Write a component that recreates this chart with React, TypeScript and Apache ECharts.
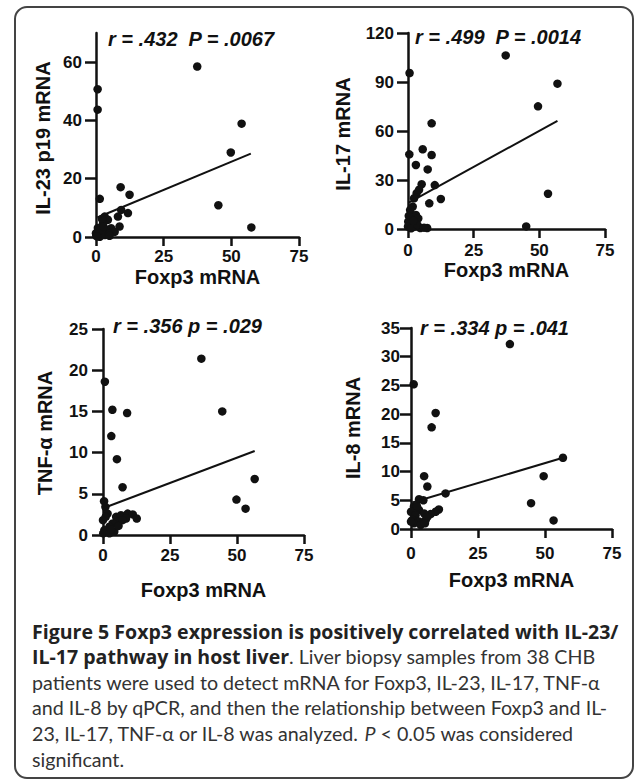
import React, { useEffect, useRef } from 'react';
import * as echarts from 'echarts';

// ---------- data ----------
const foxp3Ticks = [0, 25, 50, 75];

const il23Points = [
  [37.4, 58.5], [0.6, 50.7], [0.6, 43.7], [53.8, 38.9], [49.8, 29.0], [45.2, 10.9], [57.4, 3.3],
  [9.1, 17.1], [12.4, 14.5], [1.4, 13.1], [9.3, 9.3], [11.8, 8.2], [8.1, 7.0], [3.2, 7.0],
  [4.4, 5.9], [2.6, 4.7], [8.7, 3.6], [5.6, 3.0], [0.7, 3.1], [2.0, 1.8], [3.8, 2.4], [6.9, 1.8],
  [0.1, 0.7], [1.4, 0.1], [3.2, 0.7], [0, 1.3], [2.2, 6.2], [1.0, 2.2], [4.8, 1.0], [2.8, 3.6],
  [0.3, 0.2], [5.0, 0.4],
];
const il17Points = [
  [37.2, 106.3], [56.9, 89.0], [49.5, 75.1], [53.3, 21.6], [45.0, 1.6], [0.6, 95.5], [0.5, 45.7],
  [9.0, 64.7], [5.6, 48.8], [9.0, 45.3], [3.0, 39.2], [7.5, 36.5], [5.2, 27.4], [10.2, 26.9],
  [8.1, 15.7], [12.5, 18.4], [3.3, 21.9], [2.3, 18.8], [1.8, 13.7], [0.8, 11.6], [3.0, 8.6],
  [3.9, 6.5], [0.1, 4.5], [0, 1.5], [2.4, 1.5], [4.7, 0.6], [7.3, 0.6], [1.2, 0.4], [3.6, 2.5],
  [4.2, 24.0], [0.3, 8.0], [2.0, 5.0], [6.1, 0.8],
];
const tnfPoints = [
  [36.7, 21.4], [44.5, 15.0], [56.6, 6.8], [49.8, 4.3], [53.2, 3.2], [0.7, 18.6], [3.5, 15.2],
  [9.0, 14.8], [3.1, 12.0], [5.2, 9.2], [7.3, 5.8], [0.4, 4.1], [0.9, 3.4], [1.7, 2.6], [4.9, 2.2],
  [6.7, 2.4], [9.2, 2.6], [11.1, 2.5], [12.6, 2.0], [8.6, 2.0], [5.5, 1.6], [3.6, 1.4], [2.4, 1.0],
  [0.5, 0.6], [0.1, 0.2], [2.4, 0.2], [4.2, 0.4], [7.3, 1.8], [0, 1.8], [1.0, 2.2], [3.0, 0.7],
  [5.8, 1.1],
];
const il8Points = [
  [36.9, 32.2], [56.7, 12.4], [49.5, 9.2], [44.8, 4.5], [53.2, 1.5], [1.0, 25.2], [9.2, 20.2],
  [7.7, 17.7], [4.9, 9.2], [6.1, 7.4], [12.9, 6.2], [3.0, 5.2], [4.6, 5.0], [10.4, 3.4], [9.2, 3.0],
  [7.3, 2.6], [1.1, 3.9], [0, 3.0], [3.0, 3.3], [4.9, 2.7], [1.7, 2.4], [0.5, 1.6], [3.0, 1.3],
  [5.5, 1.6], [1.1, 1.0], [6.1, 2.1], [3.6, 0.7], [0, 1.3], [2.2, 4.0], [5.2, 1.0],
];

const il23Fit = [[0.5, 6.7], [57.2, 28.6]];
const il17Fit = [[0.3, 16.2], [56.9, 66.2]];
const tnfFit = [[0.5, 3.3], [56.6, 10.2]];
const il8Fit = [[0.5, 4.6], [56.7, 12.4]];

const il23Ticks = [0, 20, 40, 60];
const il17Ticks = [0, 30, 60, 90, 120];
const tnfTicks = [0, 5, 10, 15, 20, 25];
const il8Ticks = [0, 5, 10, 15, 20, 25, 30, 35];

const yMaxes = [70, 120, 25, 35];
const yNames = ['IL-23 p19 mRNA', 'IL-17 mRNA', 'TNF-α mRNA', 'IL-8 mRNA'];
const xName = 'Foxp3 mRNA';
const statTexts = ['r = .432  P = .0067', 'r = .499  P = .0014', 'r = .356 p = .029', 'r = .334 p = .041'];

const captionBoldFirst = 'Figure 5 Foxp3 expression is positively correlated with IL-23/';
const captionNormalRef = 'patients were used to detect mRNA for Foxp3, IL-23, IL-17, TNF-α';
const captionLines = [
  '{b|' + captionBoldFirst + '}',
  '{b|IL-17 pathway in host liver}{n|. Liver biopsy samples from 38 CHB}',
  '{n|' + captionNormalRef + '}',
  '{n|and IL-8 by qPCR, and then the relationship between Foxp3 and IL-}',
  '{n|23, IL-17, TNF-α or IL-8 was analyzed. }{i|P}{n| < 0.05 was considered}',
  '{n|significant.}',
];

// ---------- layout ----------
const panels = [
  { left: 96, top: 33, width: 203, height: 204, xMargin: 11, yMargin: 14, xGap: 30, tx: 108, ty: 39, nx: 43, ny: 138 },
  { left: 408, top: 33, width: 197, height: 196, xMargin: 13, yMargin: 14, xGap: 31, tx: 415, ty: 37, nx: 343, ny: 134 },
  { left: 103, top: 329, width: 201, height: 206, xMargin: 12, yMargin: 15, xGap: 45, tx: 113, ty: 326, nx: 45, ny: 433 },
  { left: 411, top: 328, width: 201, height: 201, xMargin: 16, yMargin: 11, xGap: 41, tx: 420, ty: 328, nx: 353, ny: 428 },
];

const pointsList = [il23Points, il17Points, tnfPoints, il8Points];
const fitList = [il23Fit, il17Fit, tnfFit, il8Fit];
const tickList = [il23Ticks, il17Ticks, tnfTicks, il8Ticks];

const AX = 'Liberation Sans, Arial, sans-serif';
const INK = '#111';
const BOLD_FONT = "'Open Sans', sans-serif";
const NORMAL_FONT = 'Lato, sans-serif';

function fitSize(text: string, font: string, weight: string, target: number, fallback: number) {
  try {
    const ctx = document.createElement('canvas').getContext('2d');
    if (!ctx) return fallback;
    ctx.font = `${weight} 20px ${font}`;
    const w = ctx.measureText(text).width;
    if (!w) return fallback;
    return (20 * target) / w;
  } catch (e) {
    return fallback;
  }
}

export default function App() {
  const ref = useRef<HTMLDivElement>(null);

  useEffect(() => {
    if (!ref.current) return;
    const chart = echarts.init(ref.current, undefined, { renderer: 'svg' });

    const boldSize = Math.min(21, Math.max(16, fitSize(captionBoldFirst, BOLD_FONT, 'bold', 587, 18)));
    const normalSize = Math.min(21, Math.max(16, fitSize(captionNormalRef, NORMAL_FONT, 'normal', 570, 19.5)));

    const axisLine = { show: true, lineStyle: { color: INK, width: 2.5 } };

    const grid = panels.map((p) => ({ left: p.left, top: p.top, width: p.width, height: p.height, containLabel: false }));

    const xAxis = panels.map((p, i) => ({
      type: 'value',
      gridIndex: i,
      min: 0,
      max: 75,
      interval: 25,
      name: xName,
      nameLocation: 'middle',
      nameGap: p.xGap,
      nameTextStyle: { fontFamily: AX, fontWeight: 'bold', fontSize: 20, color: INK },
      axisLine,
      axisTick: { show: true, length: 9, lineStyle: { color: INK, width: 2.5 }, customValues: foxp3Ticks },
      axisLabel: { fontFamily: AX, fontWeight: 'bold', fontSize: 17, color: INK, margin: p.xMargin, customValues: foxp3Ticks },
      splitLine: { show: false },
    }));

    const yAxis = panels.map((p, i) => ({
      type: 'value',
      gridIndex: i,
      min: 0,
      max: yMaxes[i],
      axisLine,
      axisTick: { show: true, length: 11, lineStyle: { color: INK, width: 2.5 }, customValues: tickList[i] },
      axisLabel: { fontFamily: AX, fontWeight: 'bold', fontSize: 17, color: INK, margin: p.yMargin, customValues: tickList[i] },
      splitLine: { show: false },
    }));

    const series: any[] = [];
    panels.forEach((_, i) => {
      series.push({
        type: 'scatter',
        xAxisIndex: i,
        yAxisIndex: i,
        data: pointsList[i],
        symbol: 'circle',
        symbolSize: 8.5,
        clip: false,
        itemStyle: { color: INK, opacity: 1 },
      });
      series.push({
        type: 'line',
        xAxisIndex: i,
        yAxisIndex: i,
        data: fitList[i],
        symbol: 'none',
        clip: false,
        lineStyle: { color: INK, width: 2 },
      });
    });

    const graphic: any[] = [
      {
        type: 'rect',
        shape: { x: 15, y: 7, width: 618, height: 771, r: 12 },
        style: { fill: 'none', stroke: '#444', lineWidth: 2 },
        silent: true,
      },
    ];
    panels.forEach((p, i) => {
      graphic.push({
        type: 'text',
        x: p.tx,
        y: p.ty,
        style: {
          text: statTexts[i],
          fontFamily: AX,
          fontWeight: 'bold',
          fontStyle: 'italic',
          fontSize: 20,
          fill: INK,
          verticalAlign: 'middle',
          align: 'left',
        },
      });
      graphic.push({
        type: 'text',
        x: p.nx,
        y: p.ny,
        rotation: Math.PI / 2,
        style: {
          text: yNames[i],
          fontFamily: AX,
          fontWeight: 'bold',
          fontSize: 20,
          fill: INK,
          verticalAlign: 'middle',
          align: 'center',
        },
      });
    });
    captionLines.forEach((line, k) => {
      graphic.push({
        type: 'text',
        x: 32,
        y: 631 + k * 25.6,
        style: {
          text: line,
          verticalAlign: 'middle',
          align: 'left',
          rich: {
            b: { fontFamily: BOLD_FONT, fontWeight: 'bold', fontSize: boldSize, fill: '#222', verticalAlign: 'middle' },
            n: { fontFamily: NORMAL_FONT, fontWeight: 'normal', fontSize: normalSize, fill: '#333', verticalAlign: 'middle' },
            i: { fontFamily: NORMAL_FONT, fontStyle: 'italic', fontSize: normalSize, fill: '#333', verticalAlign: 'middle' },
          },
        },
      });
    });

    chart.setOption({
      animation: false,
      backgroundColor: '#fff',
      grid,
      xAxis,
      yAxis,
      series,
      graphic,
    });

    return () => chart.dispose();
  }, []);

  return (
    <div
      ref={ref}
      style={{ position: 'absolute', left: 0, top: 0, width: 636, height: 780, background: '#fff' }}
    />
  );
}
